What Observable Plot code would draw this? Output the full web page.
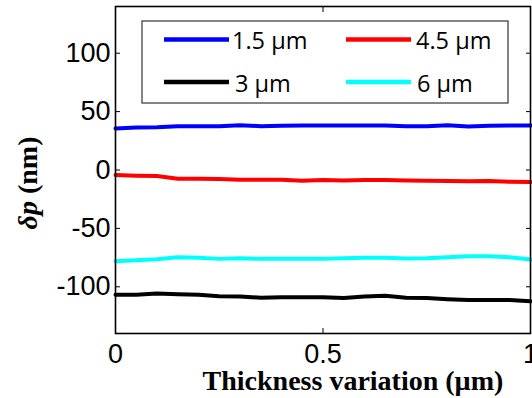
<!DOCTYPE html>
<html>
<head>
<meta charset="utf-8">
<script src="https://cdn.jsdelivr.net/npm/d3@7"></script>
<script src="https://cdn.jsdelivr.net/npm/@observablehq/plot@0.6"></script>
<style>
  body { margin: 0; background: #fff; }
  #chart { position: relative; width: 532px; height: 398px; overflow: hidden; }
</style>
</head>
<body>
<div id="chart"></div>
<script>
// Thickness variation (µm) sampled along the x axis
const thickness = [0, 0.05, 0.1, 0.15, 0.2, 0.25, 0.3, 0.35, 0.4, 0.45, 0.5,
                   0.55, 0.6, 0.65, 0.7, 0.75, 0.8, 0.85, 0.9, 0.95, 1];

// δp (nm) for each layer thickness
const dp15 = [35.6, 36.4, 36.7, 37.5, 37.5, 37.5, 38.4, 37.5, 37.8, 38.2, 38.2,
              38.2, 38.2, 38.2, 37.5, 37.5, 38.4, 37.2, 37.8, 38.2, 38.2];
const dp3 = [-106.9, -106.9, -105.7, -106.3, -106.9, -108.0, -108.3, -109.4, -108.9, -108.9, -108.9,
             -109.7, -108.3, -107.7, -109.4, -109.7, -110.6, -111.4, -111.4, -111.4, -112.3];
const dp45 = [-4.3, -4.9, -5.2, -7.4, -7.4, -7.7, -8.3, -8.3, -8.3, -9.1, -8.6,
              -8.9, -8.6, -8.6, -8.9, -9.1, -9.4, -9.7, -9.4, -10.0, -10.3];
const dp6 = [-78.1, -77.2, -76.4, -74.7, -75.2, -76.1, -75.5, -76.1, -76.1, -76.1, -76.1,
             -75.5, -75.2, -75.2, -75.8, -75.5, -74.7, -73.8, -73.8, -74.7, -76.7];

const seriesNames = ["1.5 µm", "3 µm", "4.5 µm", "6 µm"];
const seriesValues = [dp15, dp3, dp45, dp6];
const seriesColors = ["#0000ff", "#000000", "#ff0000", "#00ffff"];

const xTicks = [0, 0.5, 1];
const yTicks = [-100, -50, 0, 50, 100];

const rows = [];
seriesNames.forEach((name, i) => {
  thickness.forEach((t, j) => rows.push({x: t, y: seriesValues[i][j], series: name}));
});

const tickFont = {fontSize: 27, fontFamily: "Liberation Sans, Arial, sans-serif", fill: "black"};

const plot = Plot.plot({
  width: 532,
  height: 398,
  marginLeft: 115,
  marginTop: 6,
  marginRight: 2,
  marginBottom: 65,
  style: {background: "white", color: "black"},
  x: {domain: [0, 1]},
  y: {domain: [-140, 140]},
  color: {domain: seriesNames, range: seriesColors},
  marks: [
    Plot.line(rows, {x: "x", y: "y", z: "series", stroke: "series", strokeWidth: 4}),
    // tick labels
    Plot.axisX(xTicks, {anchor: "bottom", tickSize: 0, tickPadding: 10, label: null,
                        tickFormat: d => String(d), ...tickFont}),
    Plot.axisY(yTicks, {anchor: "left", tickSize: 0, tickPadding: 5, label: null,
                        tickFormat: d => String(d), ...tickFont}),
    // inward ticks on all four sides
    Plot.axisX(xTicks, {anchor: "bottom", tickSize: -5, text: null, label: null}),
    Plot.axisX(xTicks, {anchor: "top", tickSize: -5, text: null, label: null}),
    Plot.axisY(yTicks, {anchor: "left", tickSize: -5, text: null, label: null}),
    Plot.axisY(yTicks, {anchor: "right", tickSize: -5, text: null, label: null}),
    Plot.frame({stroke: "black", strokeWidth: 1.6})
  ]
});

document.getElementById("chart").appendChild(plot);

const svg = d3.select(plot);
const serif = "Liberation Serif, Times New Roman, serif";

// x-axis title
svg.append("text")
  .attr("x", 353).attr("y", 390)
  .attr("text-anchor", "middle")
  .attr("font-family", serif).attr("font-weight", "bold").attr("font-size", 28)
  .attr("fill", "black")
  .text("Thickness variation (µm)");

// y-axis title: δp (nm)
const yTitle = svg.append("text")
  .attr("transform", "translate(37,183) rotate(-90)")
  .attr("text-anchor", "middle")
  .attr("font-family", serif).attr("font-weight", "bold").attr("font-size", 28)
  .attr("fill", "black");
yTitle.append("tspan").attr("font-style", "italic").text("δp");
yTitle.append("tspan").text(" (nm)");

// legend box
const legend = svg.append("g");
legend.append("rect")
  .attr("x", 142).attr("y", 21).attr("width", 366).attr("height", 82)
  .attr("fill", "white").attr("stroke", "#333").attr("stroke-width", 1.2);

const legendOrder = [
  {i: 0, col: 0, row: 0},
  {i: 2, col: 1, row: 0},
  {i: 1, col: 0, row: 1},
  {i: 3, col: 1, row: 1}
];
const colX = [164, 346];
const rowY = [39.5, 82];
const textX = [[232, 235], [416, 417]];
legendOrder.forEach(({i, col, row}) => {
  const y = rowY[row];
  legend.append("line")
    .attr("x1", colX[col]).attr("x2", colX[col] + 65)
    .attr("y1", y).attr("y2", y)
    .attr("stroke", seriesColors[i]).attr("stroke-width", 4.5);
  legend.append("text")
    .attr("x", textX[col][row]).attr("y", y + 9.5)
    .attr("text-anchor", "start")
    .attr("font-family", "Open Sans, Lato, sans-serif").attr("font-size", 23.5)
    .attr("fill", "black")
    .text(seriesNames[i]);
});
</script>
</body>
</html>
